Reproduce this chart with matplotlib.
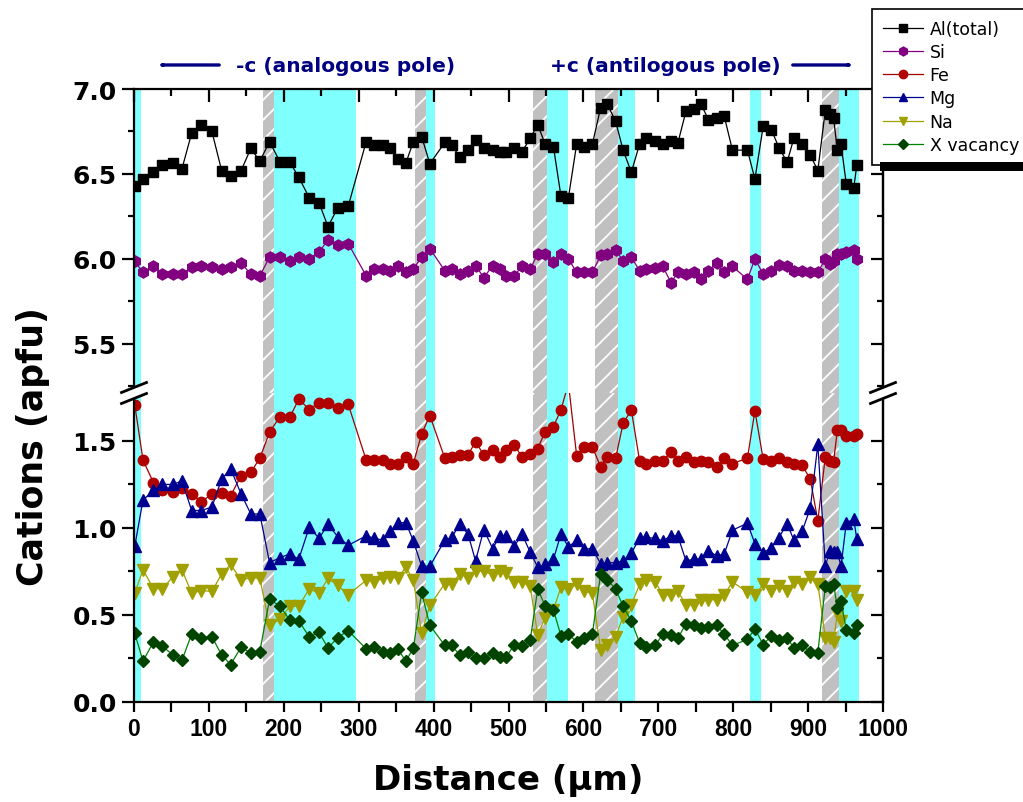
import matplotlib
matplotlib.use('Agg')
import matplotlib.pyplot as plt
from matplotlib.lines import Line2D
from matplotlib.patches import Rectangle, Polygon, FancyArrowPatch
from matplotlib.collections import LineCollection
from matplotlib.ticker import MultipleLocator

# measurement positions (um), shared by all series
distance = [1, 12, 26, 38, 52, 64, 77, 90, 104, 117, 129, 143, 156, 168, 181, 195, 208, 220, 234, 247,
            259, 272, 286, 310, 321, 332, 342, 352, 363, 373, 384, 395, 415, 424, 435, 446, 456, 467,
            479, 488, 497, 508, 518, 529, 539, 549, 560, 570, 580, 591, 601, 612, 623, 632, 643, 653,
            664, 675, 684, 696, 706, 717, 726, 737, 747, 757, 767, 778, 788, 799, 819, 829, 840, 851,
            861, 872, 881, 892, 903, 913, 923, 929, 934, 939, 944, 951, 961, 965]

al_total = [6.43, 6.47, 6.51, 6.55, 6.565, 6.53, 6.74, 6.79, 6.75, 6.52, 6.49, 6.52, 6.65, 6.575, 6.69, 6.57,
            6.57, 6.48, 6.36, 6.33, 6.19, 6.30, 6.31, 6.69, 6.67, 6.67, 6.65, 6.585, 6.565, 6.69, 6.72, 6.56,
            6.685, 6.67, 6.60, 6.64, 6.70, 6.65,
            6.64, 6.63, 6.63, 6.655, 6.63, 6.71, 6.79, 6.675, 6.66, 6.37, 6.36, 6.675, 6.66, 6.675, 6.89, 6.91,
            6.81, 6.64, 6.51, 6.675, 6.71, 6.695, 6.675, 6.695, 6.68, 6.87, 6.88, 6.91, 6.82, 6.83, 6.84, 6.64,
            6.64, 6.47, 6.78, 6.76, 6.655, 6.57, 6.71, 6.675, 6.61, 6.52, 6.875, 6.85, 6.83, 6.64, 6.675, 6.44,
            6.42, 6.55]

si = [5.985, 5.92, 5.955, 5.91, 5.91, 5.91, 5.95, 5.96, 5.95, 5.94, 5.95, 5.975, 5.91, 5.90, 6.01, 6.01,
      5.99, 6.01, 6.00, 6.04, 6.11, 6.08, 6.09, 5.90, 5.94, 5.94, 5.93, 5.955, 5.92, 5.94, 6.01, 6.06,
      5.93, 5.94, 5.91, 5.93, 5.96, 5.89,
      5.96, 5.94, 5.90, 5.90, 5.96, 5.94, 6.03, 6.03, 5.98, 6.03, 6.00, 5.92, 5.92, 5.92, 6.02, 6.03,
      6.05, 5.99, 6.01, 5.93, 5.94, 5.945, 5.955, 5.86, 5.92, 5.91, 5.92, 5.88, 5.93, 5.975, 5.92, 5.955,
      5.88, 6.00, 5.91, 5.93, 5.965, 5.96, 5.93, 5.93, 5.92, 5.92, 6.00, 5.97, 5.99, 6.03, 6.03, 6.04,
      6.05, 6.00]

fe = [1.707, 1.39, 1.26, 1.215, 1.205, 1.23, 1.195, 1.15, 1.195, 1.20, 1.185, 1.30, 1.32, 1.40, 1.55, 1.64,
      1.635, 1.74, 1.68, 1.72, 1.715, 1.69, 1.71, 1.39, 1.39, 1.39, 1.365, 1.37, 1.41, 1.37, 1.54, 1.645,
      1.40, 1.41, 1.42, 1.42, 1.495, 1.42,
      1.447, 1.408, 1.447, 1.475, 1.408, 1.427, 1.456, 1.553, 1.582, 1.678, 1.83, 1.414, 1.466, 1.466, 1.35, 1.41,
      1.40, 1.60, 1.678, 1.385, 1.365, 1.385, 1.385, 1.437, 1.385, 1.408, 1.38, 1.385, 1.38, 1.35, 1.40, 1.37,
      1.40, 1.673, 1.395, 1.385, 1.40, 1.38, 1.365, 1.36, 1.28, 1.04, 1.41, 1.385, 1.38, 1.56, 1.56, 1.53,
      1.53, 1.54]

mg = [0.895, 1.16, 1.215, 1.25, 1.25, 1.27, 1.10, 1.10, 1.12, 1.28, 1.34, 1.195, 1.08, 1.08, 0.80, 0.83,
      0.85, 0.82, 1.005, 0.94, 1.02, 0.95, 0.90, 0.955, 0.94, 0.93, 0.98, 1.03, 1.03, 0.925, 0.78, 0.78,
      0.93, 0.945, 1.02, 0.965, 0.81, 0.99,
      0.88, 0.955, 0.955, 0.895, 0.965, 0.86, 0.775, 0.79, 0.82, 0.965, 0.89, 0.93, 0.88, 0.88, 0.795, 0.80,
      0.80, 0.81, 0.855, 0.94, 0.945, 0.94, 0.925, 0.955, 0.955, 0.81, 0.82, 0.82, 0.867, 0.84, 0.85, 0.987,
      1.027, 0.91, 0.857, 0.886, 0.944, 1.025, 0.93, 0.98, 1.114, 1.48, 0.78, 0.87, 0.86, 0.86, 0.78, 1.03,
      1.05, 0.935]

na = [0.625, 0.76, 0.65, 0.65, 0.72, 0.76, 0.625, 0.64, 0.635, 0.735, 0.79, 0.70, 0.715, 0.71, 0.44, 0.475,
      0.55, 0.55, 0.65, 0.625, 0.71, 0.67, 0.615, 0.70, 0.69, 0.71, 0.72, 0.71, 0.775, 0.70, 0.395, 0.555,
      0.68, 0.68, 0.735, 0.715, 0.755, 0.75,
      0.73, 0.75, 0.74, 0.69, 0.69, 0.665, 0.385, 0.485, 0.53, 0.66, 0.65, 0.675, 0.64, 0.625, 0.30, 0.33,
      0.375, 0.49, 0.56, 0.675, 0.70, 0.69, 0.615, 0.615, 0.635, 0.56, 0.555, 0.587, 0.587, 0.587, 0.615, 0.69,
      0.63, 0.615, 0.675, 0.64, 0.665, 0.64, 0.69, 0.68, 0.716, 0.68, 0.37, 0.37, 0.345, 0.51, 0.465, 0.635,
      0.635, 0.587]

x_vacancy = [0.395, 0.235, 0.345, 0.32, 0.27, 0.24, 0.39, 0.37, 0.375, 0.27, 0.215, 0.315, 0.28, 0.29, 0.59, 0.55,
             0.47, 0.465, 0.375, 0.40, 0.31, 0.37, 0.41, 0.305, 0.315, 0.29, 0.28, 0.305, 0.235, 0.31, 0.63, 0.44,
             0.325, 0.325, 0.27, 0.29, 0.255, 0.255,
             0.284, 0.26, 0.26, 0.33, 0.32, 0.355, 0.65, 0.55, 0.53, 0.38, 0.39, 0.345, 0.365, 0.39, 0.735, 0.70,
             0.65, 0.55, 0.465, 0.34, 0.317, 0.325, 0.39, 0.385, 0.365, 0.45, 0.44, 0.427, 0.43, 0.44, 0.39, 0.325,
             0.36, 0.42, 0.33, 0.38, 0.355, 0.37, 0.31, 0.325, 0.288, 0.284, 0.665, 0.66, 0.68, 0.54, 0.578, 0.415,
             0.395, 0.44]

series_labels = ['Al(total)', 'Si', 'Fe', 'Mg', 'Na', 'X vacancy']

# shaded zones along the profile (um)
cyan_zones = [(0, 9), (187, 296), (390, 402), (551, 580), (646, 669), (822, 837), (941, 968)]
gray_zones = [(172, 187), (375, 390), (533, 551), (616, 646), (918, 941)]

W, H = 1023, 803
fig = plt.figure(figsize=(W / 100, H / 100), dpi=100)

left, right = 134 / W, 883 / W
y_top, y_break, y_bot = 1 - 90 / H, 1 - 394 / H, 1 - 703 / H
ax_hi = fig.add_axes([left, y_break, right - left, y_top - y_break])
ax_lo = fig.add_axes([left, y_bot, right - left, y_break - y_bot])


def hatch_lines(ax, step=20):
    # white 45-degree stripes over the whole axes, in axes fractions
    bb = ax.get_position()
    wpx, hpx = bb.width * W, bb.height * H
    segs = []
    x0 = -hpx
    while x0 < wpx:
        segs.append([(x0 / wpx, 0), ((x0 + hpx) / wpx, 1)])
        x0 += step
    return segs


for ax in (ax_hi, ax_lo):
    for a, b in cyan_zones:
        ax.axvspan(a, b, facecolor='#80FFFF', edgecolor='none', zorder=0)
    for a, b in gray_zones:
        rect = ax.axvspan(a, b, facecolor='#C0C0C0', edgecolor='none', zorder=0)
        lc = LineCollection(hatch_lines(ax), colors='white', linewidths=1.3,
                            transform=ax.transAxes, zorder=0.5)
        ax.add_collection(lc, autolim=False)
        lc.set_clip_path(rect)
    ax.set_xlim(0, 1000)
    ax.xaxis.set_major_locator(MultipleLocator(100))
    ax.xaxis.set_minor_locator(MultipleLocator(50))
    ax.yaxis.set_major_locator(MultipleLocator(0.5))
    ax.yaxis.set_minor_locator(MultipleLocator(0.25))
    for s in ax.spines.values():
        s.set_linewidth(1.6)

kw = dict(linewidth=0.9)
h_al, = ax_hi.plot(distance, al_total, '-s', color='black', ms=7, **kw)
h_si, = ax_hi.plot(distance, si, '-h', color='#800080', ms=8, **kw)
h_fe, = ax_lo.plot(distance, fe, '-o', color='#A00000', mfc='#B00000', mec='#B00000', ms=7.5, **kw)
h_mg, = ax_lo.plot(distance, mg, '-^', color='#000090', ms=8, **kw)
h_na, = ax_lo.plot(distance, na, '-v', color='#A0A000', ms=8, **kw)
h_x, = ax_lo.plot(distance, x_vacancy, '-D', color='#008000', mfc='#004400', mec='#004400', ms=6.5, **kw)

ax_hi.set_ylim(5.21, 7.0)
ax_lo.set_ylim(0, 1.775)

ax_hi.spines['bottom'].set_visible(False)
ax_lo.spines['top'].set_visible(False)

# ticks: top/right inward, left/bottom outward
ax_hi.xaxis.set_ticks_position('top')
ax_hi.tick_params(axis='x', which='both', direction='in', labeltop=False, width=1.6)
ax_hi.tick_params(axis='x', which='major', length=9)
ax_hi.tick_params(axis='x', which='minor', length=5)
ax_lo.xaxis.set_ticks_position('bottom')
ax_lo.tick_params(axis='x', which='both', direction='out', width=1.6, length=7)
for ax in (ax_hi, ax_lo):
    ax.yaxis.set_ticks_position('left')
    ax.tick_params(axis='y', which='both', direction='out', width=1.6)
    ax.tick_params(axis='y', which='major', length=9)
    ax.tick_params(axis='y', which='minor', length=4)
    sec = ax.secondary_yaxis('right')
    sec.yaxis.set_major_locator(MultipleLocator(0.5))
    sec.yaxis.set_minor_locator(MultipleLocator(0.25))
    sec.tick_params(axis='y', which='both', direction='in', labelright=False, width=1.6)
    sec.tick_params(axis='y', which='major', length=9)
    sec.tick_params(axis='y', which='minor', length=4)
    sec.spines['right'].set_linewidth(1.6)
    for lab in ax.get_yticklabels():
        lab.set_fontfamily('DejaVu Sans')
        lab.set_fontweight('bold')
        lab.set_fontsize(18)

ax_lo.set_xticks(range(0, 1001, 100))
ax_lo.set_xticklabels([str(v) for v in range(0, 1001, 100)],
                      fontfamily='Liberation Sans', fontweight='bold', fontsize=16.5)

# axis break marks
for xb in (left, right):
    xc, yc = xb * W, (1 - y_break) * H
    dx, dy, gap = 12.5, 5, 5.5
    pts = [(xc - dx, yc + dy + gap), (xc + dx, yc - dy + gap), (xc + dx, yc - dy - gap), (xc - dx, yc + dy - gap)]
    pts = [(px / W, 1 - py / H) for px, py in pts]
    fig.patches.append(Polygon(pts, closed=True, facecolor='white', edgecolor='none',
                               transform=fig.transFigure, zorder=5))
    for sgn in (1, -1):
        fig.lines.append(Line2D([(xc - dx) / W, (xc + dx) / W],
                                [1 - (yc + dy + sgn * gap) / H, 1 - (yc - dy + sgn * gap) / H],
                                color='black', lw=2, transform=fig.transFigure, zorder=6))

fig.text(33 / W, 1 - 447 / H, 'Cations (apfu)', rotation=90, ha='center', va='center',
         fontsize=25, fontweight='bold', family='DejaVu Sans')
fig.text(508 / W, 1 - 781 / H, 'Distance (\u03bcm)', ha='center', va='center',
         fontsize=24.5, fontweight='bold', family='DejaVu Sans')

# polarity annotations
navy = '#000080'
fig.text(346 / W, 1 - 66 / H, '-c (analogous pole)', ha='center', va='center',
         fontsize=14.5, fontweight='bold', color=navy)
fig.text(665 / W, 1 - 66 / H, '+c (antilogous pole)', ha='center', va='center',
         fontsize=14.5, fontweight='bold', color=navy)
arrow = dict(arrowstyle='-|>,head_length=0.9,head_width=0.3', color=navy, lw=2.4)
fig.add_artist(FancyArrowPatch((222 / W, 1 - 66 / H), (154 / W, 1 - 66 / H),
                               transform=fig.transFigure, **arrow))
fig.add_artist(FancyArrowPatch((790 / W, 1 - 66 / H), (857 / W, 1 - 66 / H),
                               transform=fig.transFigure, **arrow))

leg = fig.legend([h_al, h_si, h_fe, h_mg, h_na, h_x], series_labels,
                 loc='upper left', bbox_to_anchor=(872 / W, 1 - 10 / H), borderaxespad=0,
                 fontsize=12.5, frameon=True, fancybox=False, framealpha=1, edgecolor='black',
                 handlelength=2.3, labelspacing=0.3, borderpad=0.62, handletextpad=0.4,
                 markerscale=0.8)
leg.get_frame().set_linewidth(1.2)

fig.patches.append(Rectangle((880 / W, 1 - 172 / H), (W - 880) / W, 9 / H, zorder=10,
                             facecolor='black', edgecolor='none', transform=fig.transFigure))

fig.savefig('out.png', dpi=100)
